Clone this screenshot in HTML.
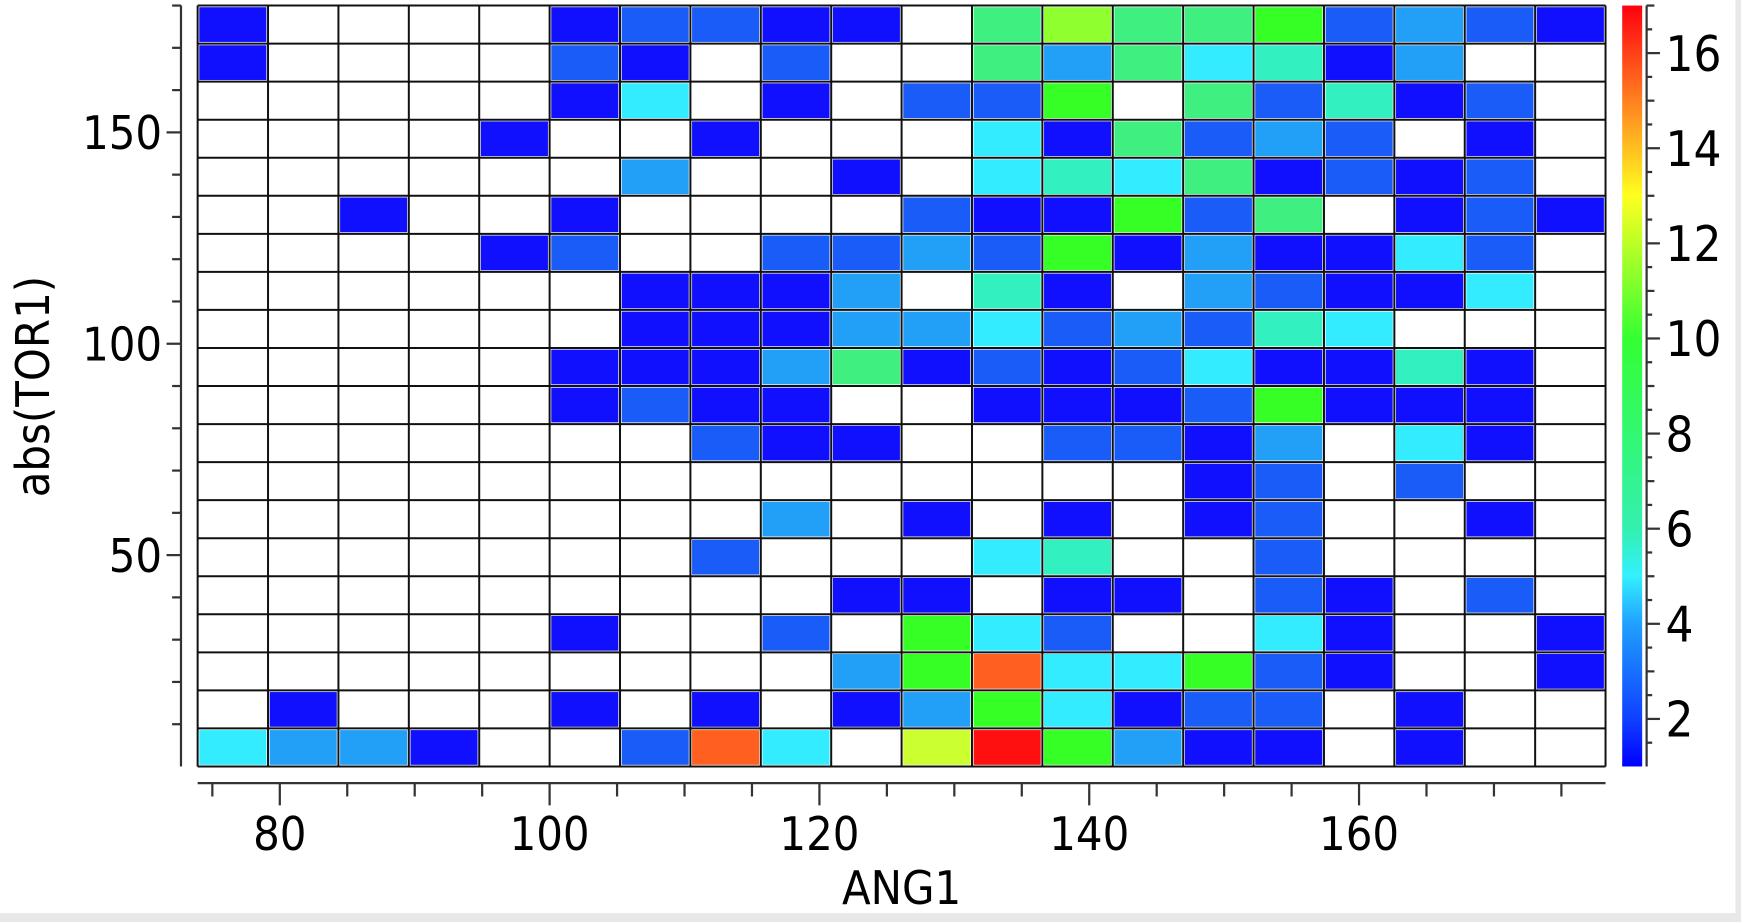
<!DOCTYPE html>
<html><head><meta charset="utf-8"><style>
html,body{margin:0;padding:0;background:#fff;width:1741px;height:922px;overflow:hidden}
svg{display:block}
text{font-family:"DejaVu Sans Condensed","Liberation Sans",sans-serif;fill:#000}
</style></head><body>
<svg id="s" width="1741" height="922" viewBox="0 0 1568 830" preserveAspectRatio="none" xmlns="http://www.w3.org/2000/svg">
<defs><linearGradient id="cb" x1="0" y1="1" x2="0" y2="0">
<stop offset="0" stop-color="#0000ff"/><stop offset="0.0625" stop-color="#1040ff"/>
<stop offset="0.1875" stop-color="#20a0ff"/><stop offset="0.25" stop-color="#33f0ff"/>
<stop offset="0.3125" stop-color="#33f0b0"/><stop offset="0.5625" stop-color="#33ff33"/>
<stop offset="0.75" stop-color="#ffff20"/><stop offset="0.875" stop-color="#ff8020"/>
<stop offset="1" stop-color="#ff0010"/></linearGradient></defs>
<rect x="0" y="822" width="1568" height="8" fill="#e8e8e8"/>
<rect x="1563" y="0" width="5" height="830" fill="#e8e8e8"/>
<g id="cells"></g><g id="grid"></g><g id="axes"></g>
<rect x="1461" y="5" width="18" height="685" fill="url(#cb)"/>
<text x="812" y="814" font-size="42" text-anchor="middle">ANG1</text>
<text transform="translate(44,348) rotate(-90)" font-size="42" text-anchor="middle">abs(TOR1)</text>
</svg>
<script>
var rows=[
"B....BMMBB.GlGGVMLMB","B....MB.M..GLGCTBL..",".....BC.B.MMV.GMTBM.","....B..B...CBGMLM.B.",
"......L..B.CTCGBMBM.","..B..B....MBBVMG.BMB","....BM..MMLMVBLBBCM.","......BBBL.TB.LMBBC.",
"......BBBLLCMLMTC...",".....BBBLGBMBMCBBTB.",".....BMBB..BBBMVBBB.",".......MBB..MMBL.CB.",
"..............BM.M..","........L.B.B.BM..B.",".......M...CT..M....",".........BB.BB.MB.M.",
".....B..M.VCM..CB..B",".........LVOCCVMB..B",".B...B.B.BLVCBMM.B..","CLLB..MOC.YRVLBB.B.."];
var col={B:"#1010ff",M:"#1a5cf8",L:"#22a0f8",C:"#33ecff",T:"#33f0c0",G:"#3ff080",V:"#35ff25",l:"#90ff30",Y:"#ccff30",O:"#ff6020",R:"#ff1010"};
var x0=178,x1=1446,y0=5,y1=690,cw=(x1-x0)/20,rh=(y1-y0)/20;
var NS="http://www.w3.org/2000/svg";
function el(p,t,a,txt){var e=document.createElementNS(NS,t);for(var k in a)e.setAttribute(k,a[k]);if(txt!=null)e.textContent=txt;document.getElementById(p).appendChild(e);}
for(var r=0;r<20;r++)for(var c=0;c<20;c++){var ch=rows[r][c];if(ch!=".")el("cells","rect",{x:x0+c*cw+1.5,y:y0+r*rh+1.5,width:cw-3,height:rh-3,fill:col[ch]});}
for(var i=0;i<=20;i++){el("grid","line",{x1:x0+i*cw,y1:y0,x2:x0+i*cw,y2:y1,stroke:"#111","stroke-width":1.8});el("grid","line",{x1:x0,y1:y0+i*rh,x2:x1,y2:y0+i*rh,stroke:"#111","stroke-width":1.8});}
el("axes","line",{x1:163,y1:5,x2:163,y2:690,stroke:"#333","stroke-width":2});
function yv(v){return 690-v*(685/180);}
for(var v=10;v<=180;v+=10){var maj=(v%50==0);el("axes","line",{x1:maj?150:155,y1:yv(v),x2:163,y2:yv(v),stroke:"#333","stroke-width":2});
 if(maj)el("axes","text",{x:146,y:yv(v)+15,"font-size":42,"text-anchor":"end"},v);}
el("axes","line",{x1:178,y1:705,x2:1446,y2:705,stroke:"#333","stroke-width":2});
function xv(v){return 252+(v-80)*12.15;}
for(var v=75;v<=175;v+=5){var maj=(v%20==0);el("axes","line",{x1:xv(v),y1:705,x2:xv(v),y2:maj?725:717,stroke:"#333","stroke-width":2});
 if(maj)el("axes","text",{x:xv(v),y:765,"font-size":42,"text-anchor":"middle"},v);}
el("axes","line",{x1:1483,y1:5,x2:1483,y2:690,stroke:"#333","stroke-width":2});
function cv(v){return 690-(v-1)*(685/16);}
for(var v=1.5;v<=17;v+=0.5){var maj=(v%2==0),mid=(v%1==0);el("axes","line",{x1:1483,y1:cv(v),x2:maj?1495:(mid?1490:1488),y2:cv(v),stroke:"#333","stroke-width":2});
 if(maj)el("axes","text",{x:1500,y:cv(v)+16,"font-size":44},v);}
</script>
</body></html>
